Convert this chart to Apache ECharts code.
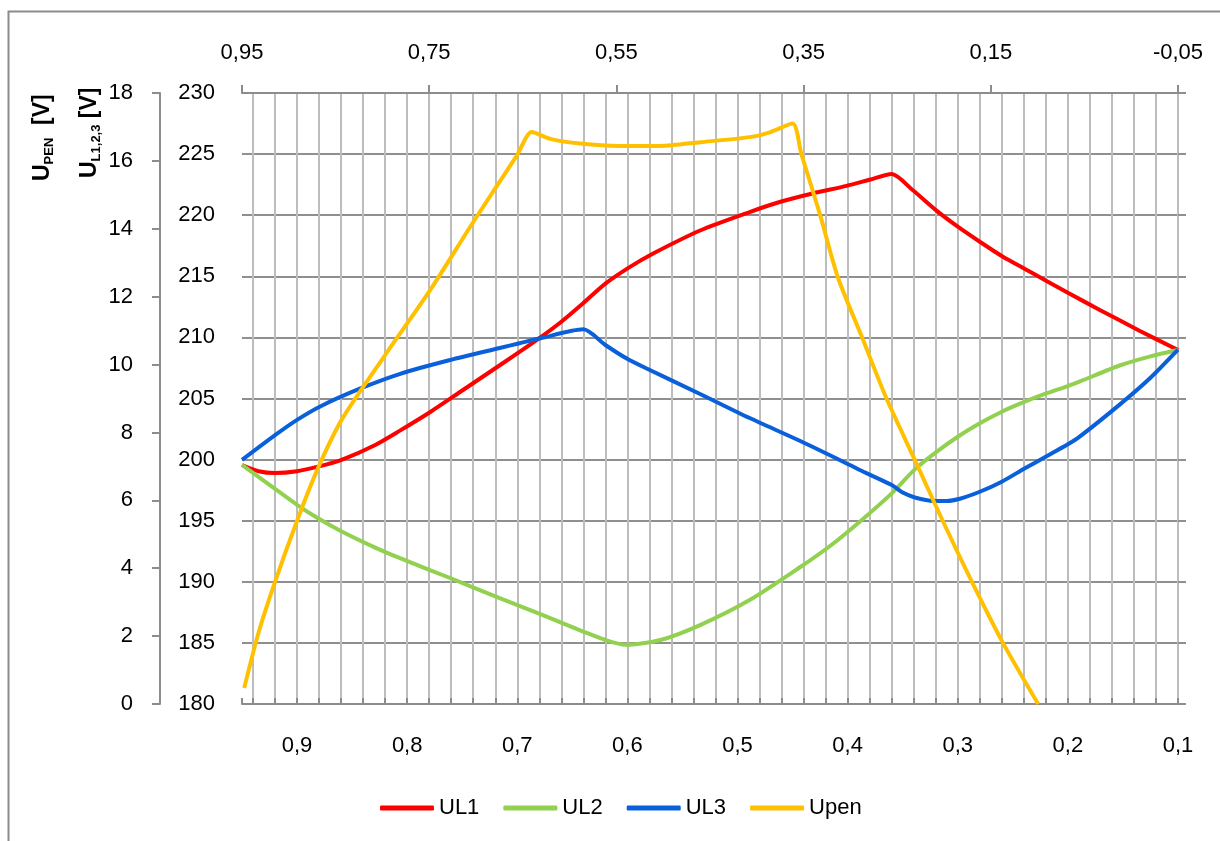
<!DOCTYPE html>
<html>
<head>
<meta charset="utf-8">
<script src="https://cdn.jsdelivr.net/npm/echarts@6/dist/echarts.min.js"></script>
<style>
  html, body { margin: 0; padding: 0; background: #fff; }
  #chart { width: 1220px; height: 841px; }
</style>
</head>
<body>
<div id="chart"></div>
<script>
// bottom axis labels and top axis labels
const bottomTicks = [0.9, 0.8, 0.7, 0.6, 0.5, 0.4, 0.3, 0.2, 0.1]
const topTicks = ['0,95', '0,75', '0,55', '0,35', '0,15', '-0,05']

// UL1 (red)
const ul1X = [0.95, 0.935, 0.92, 0.9, 0.881, 0.859, 0.829, 0.807, 0.779, 0.752, 0.725, 0.698, 0.679, 0.66, 0.64, 0.62, 0.598, 0.577, 0.534, 0.489, 0.461, 0.431, 0.401, 0.38, 0.36, 0.341, 0.319, 0.3, 0.28, 0.259, 0.239, 0.219, 0.2, 0.171, 0.135, 0.1]
const ul1 = [199.56, 199.05, 198.9, 199.05, 199.42, 200.0, 201.2, 202.35, 203.9, 205.53, 207.17, 208.81, 210.0, 211.28, 212.81, 214.4, 215.75, 216.85, 218.75, 220.26, 221.1, 221.8, 222.4, 222.9, 223.37, 222.06, 220.35, 219.06, 217.83, 216.6, 215.6, 214.6, 213.65, 212.25, 210.55, 208.97]

// UL2 (green)
const ul2X = [0.95, 0.92, 0.9, 0.881, 0.859, 0.829, 0.807, 0.761, 0.716, 0.679, 0.639, 0.62, 0.602, 0.57, 0.534, 0.489, 0.443, 0.416, 0.389, 0.36, 0.339, 0.319, 0.3, 0.28, 0.26, 0.239, 0.219, 0.2, 0.189, 0.153, 0.125, 0.1]
const ul2 = [199.56, 197.6, 196.3, 195.2, 194.1, 192.8, 191.95, 190.31, 188.67, 187.36, 185.89, 185.24, 184.85, 185.24, 186.46, 188.51, 191.21, 192.93, 194.92, 197.24, 199.2, 200.65, 201.87, 202.97, 203.92, 204.74, 205.43, 206.02, 206.4, 207.7, 208.45, 208.97]

// UL3 (blue)
const ul3X = [0.95, 0.92, 0.9, 0.879, 0.843, 0.807, 0.761, 0.716, 0.698, 0.679, 0.64, 0.62, 0.601, 0.583, 0.534, 0.489, 0.443, 0.398, 0.389, 0.36, 0.35, 0.339, 0.322, 0.31, 0.298, 0.28, 0.26, 0.239, 0.219, 0.2, 0.189, 0.153, 0.125, 0.1]
const ul3 = [199.97, 202.0, 203.25, 204.35, 205.8, 207.0, 208.15, 209.13, 209.52, 209.93, 210.66, 209.38, 208.29, 207.47, 205.37, 203.4, 201.52, 199.56, 199.15, 197.92, 197.3, 196.9, 196.62, 196.62, 196.8, 197.37, 198.19, 199.29, 200.29, 201.25, 201.9, 204.5, 206.7, 209.0]

// Upen (orange, outer scale 0..18)
const upX = [0.948, 0.935, 0.92, 0.9, 0.881, 0.859, 0.82, 0.779, 0.74, 0.7, 0.687, 0.67, 0.643, 0.607, 0.57, 0.534, 0.489, 0.47, 0.45, 0.442, 0.425, 0.409, 0.387, 0.365, 0.339, 0.314, 0.287, 0.259, 0.227]
const upen = [0.47, 2.1, 3.6, 5.4, 6.95, 8.4, 10.28, 12.2, 14.2, 16.18, 16.85, 16.65, 16.51, 16.44, 16.44, 16.55, 16.7, 16.85, 17.1, 16.2, 14.41, 12.58, 10.81, 9.02, 7.19, 5.42, 3.59, 1.8, 0]

const font = 'Liberation Sans, Arial, sans-serif'
const pairs = (xs, ys) => xs.map((x, i) => [x, ys[i]])

const chart = echarts.init(document.getElementById('chart'))
const lineSeries = (name, xs, ys, yIdx) => ({
  name: name,
  type: 'line',
  xAxisIndex: 0,
  yAxisIndex: yIdx,
  showSymbol: false,
  smooth: 0.25,
  lineStyle: { width: 4 },
  data: pairs(xs, ys)
})
const titleRich = {
  u: { fontSize: 23, fontWeight: 'bold', fontFamily: font, lineHeight: 26, fill: '#000' },
  s: { fontSize: 13, fontWeight: 'bold', fontFamily: font, lineHeight: 13, verticalAlign: 'bottom', fill: '#000' }
}

chart.setOption({
  animation: false,
  color: ['#ff0000', '#92d050', '#0a60da', '#ffc000'],
  textStyle: { fontFamily: font },
  grid: { left: 242, right: 42, top: 93, bottom: 137, containLabel: false },
  legend: {
    data: ['UL1', 'UL2', 'UL3', 'Upen'],
    left: 380,
    top: 797,
    padding: 0,
    icon: 'roundRect',
    itemWidth: 54,
    itemHeight: 5,
    itemGap: 24,
    textStyle: { fontSize: 22, color: '#000', fontFamily: font }
  },
  xAxis: [
    {
      type: 'value',
      position: 'bottom',
      min: 0.1,
      max: 0.95,
      interval: 0.02,
      inverse: true,
      axisLine: { show: true, lineStyle: { color: '#8c8c8c', width: 2 } },
      axisTick: { show: true, inside: true, length: 6, lineStyle: { color: '#8c8c8c', width: 2 } },
      axisLabel: {
        margin: 31,
        fontSize: 22,
        color: '#000',
        formatter: function (v) {
          const hit = bottomTicks.find(t => Math.abs(t - v) < 1e-6)
          return hit === undefined ? '' : String(hit).replace('.', ',')
        }
      },
      splitLine: { show: true, showMaxLine: false, lineStyle: { color: '#bdbdbd', width: 2 } }
    },
    {
      type: 'category',
      position: 'top',
      boundaryGap: false,
      data: topTicks,
      axisLine: { show: true, lineStyle: { color: '#8c8c8c', width: 2 } },
      axisTick: { show: true, length: 8, lineStyle: { color: '#8c8c8c', width: 2 } },
      axisLabel: { margin: 29, fontSize: 22, color: '#000' },
      splitLine: { show: false }
    }
  ],
  yAxis: [
    {
      type: 'value',
      position: 'left',
      min: 180,
      max: 230,
      interval: 5,
      axisLine: { show: false },
      axisTick: { show: false },
      axisLabel: { margin: 27, fontSize: 22, color: '#000' },
      splitLine: { show: true, lineStyle: { color: '#8f8f8f', width: 2 } }
    },
    {
      type: 'value',
      position: 'left',
      offset: 82,
      min: 0,
      max: 18,
      interval: 2,
      axisLine: { show: true, lineStyle: { color: '#8c8c8c', width: 2 } },
      axisTick: { show: true, length: 8, lineStyle: { color: '#8c8c8c', width: 2 } },
      axisLabel: { margin: 27, fontSize: 22, color: '#000' },
      splitLine: { show: false }
    },
    {
      // small outside ticks on the right edge of the plot
      type: 'value',
      position: 'right',
      min: 180,
      max: 230,
      interval: 5,
      axisLine: { show: false },
      axisTick: { show: true, length: 8, lineStyle: { color: '#8f8f8f', width: 2 } },
      axisLabel: { show: false },
      splitLine: { show: false }
    }
  ],
  graphic: [
    {
      type: 'polyline',
      shape: { points: [[8.5, 841], [8.5, 11.5], [1220, 11.5]] },
      style: { stroke: '#8c8c8c', lineWidth: 2, fill: null }
    },
    {
      type: 'text',
      x: 43,
      y: 181,
      rotation: Math.PI / 2,
      style: { text: '{u|U}{s|PEN}{u|  [V]}', align: 'left', verticalAlign: 'middle', rich: titleRich }
    },
    {
      type: 'text',
      x: 90,
      y: 178,
      rotation: Math.PI / 2,
      style: { text: '{u|U}{s|L1,2,3}{u| [V]}', align: 'left', verticalAlign: 'middle', rich: titleRich }
    }
  ],
  series: [
    lineSeries('UL1', ul1X, ul1, 0),
    lineSeries('UL2', ul2X, ul2, 0),
    lineSeries('UL3', ul3X, ul3, 0),
    lineSeries('Upen', upX, upen, 1)
  ]
})
</script>
</body>
</html>
